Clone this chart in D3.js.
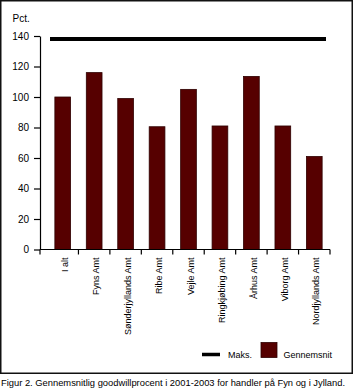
<!DOCTYPE html>
<html>
<head>
<meta charset="utf-8">
<script src="https://cdnjs.cloudflare.com/ajax/libs/d3/7.8.5/d3.min.js"></script>
<style>
  body { margin: 0; background: #fff; }
  text { font-family: "Liberation Sans", Arial, sans-serif; fill: #000; }
</style>
</head>
<body>
<script>
let categories = ["I alt", "Fyns Amt", "Sønderjyllands Amt", "Ribe Amt", "Vejle Amt",
                  "Ringkjøbing Amt", "Århus Amt", "Viborg Amt", "Nordjyllands Amt"]
let gennemsnit = [100, 116, 99, 80.5, 105, 81, 113.5, 81, 61]
let maks = 138
let yTicks = [0, 20, 40, 60, 80, 100, 120, 140]
let legendLabels = ["Maks.", "Gennemsnit"]
let caption = "Figur 2. Gennemsnitlig goodwillprocent i 2001-2003 for handler på Fyn og i Jylland."

let width = 354
let height = 391
let axisleft = 40   // y axis sits here
let bandstart = 47  // first category starts a bit right of the axis
let bandend = 330
let ytop = 36
let ybottom = 249.5
let barcolor = "#560000"

let svg = d3.select("body").append("svg")
    .attr("width", width)
    .attr("height", height)

// frame round the chart
svg.append("rect")
    .attr("x", 0.75).attr("y", 0.75)
    .attr("width", 351.5).attr("height", 372.5)
    .attr("fill", "none")
    .attr("stroke", "#111")
    .attr("stroke-width", 1.5)

let x = d3.scaleBand()
    .domain(categories)
    .range([bandstart, bandend])
    .paddingInner(0.5)
    .paddingOuter(0.25)

let y = d3.scaleLinear()
    .domain([0, 140])
    .range([ybottom, ytop])

// bars
svg.selectAll("rect.bar")
    .data(categories)
    .enter()
    .append("rect")
    .attr("class", "bar")
    .attr("x", function(d){ return x(d) })
    .attr("y", function(d, i){ return y(gennemsnit[i]) })
    .attr("width", x.bandwidth())
    .attr("height", function(d, i){ return ybottom - y(gennemsnit[i]) })
    .attr("fill", barcolor)
    .attr("stroke", "#2e0000")
    .attr("stroke-width", 0.8)

// maks line across all categories
svg.append("line")
    .attr("x1", bandstart + 3)
    .attr("x2", bandend - 4)
    .attr("y1", y(maks))
    .attr("y2", y(maks))
    .attr("stroke", "#000")
    .attr("stroke-width", 4)

// y axis
let yAxis = d3.axisLeft(y)
    .tickValues(yTicks)
    .tickSize(6)
    .tickSizeOuter(0)
    .tickPadding(5)
let ya = svg.append("g")
    .attr("transform", "translate(" + axisleft + ",0)")
    .call(yAxis)
ya.select(".domain").attr("stroke", "#000").attr("stroke-width", 1.2)
ya.selectAll(".tick line").attr("stroke", "#000").attr("stroke-width", 1.2)
ya.selectAll(".tick text")
    .style("font-family", "'Liberation Sans', Arial, sans-serif")
    .style("font-size", "10px")
    .attr("fill", "#000")

svg.append("text")
    .attr("x", 12.5)
    .attr("y", 22)
    .style("font-size", "10px")
    .text("Pct.")

// x axis line with ticks between categories
let step = x.step()
let xticks = [axisleft].concat(categories.map(function(d){ return x(d) - x.bandwidth() * 0.5 + step })) 
svg.append("line")
    .attr("x1", axisleft).attr("x2", bandend)
    .attr("y1", ybottom).attr("y2", ybottom)
    .attr("stroke", "#000").attr("stroke-width", 1.2)
svg.selectAll("line.xtick")
    .data(xticks)
    .enter()
    .append("line")
    .attr("class", "xtick")
    .attr("x1", function(d){ return d }).attr("x2", function(d){ return d })
    .attr("y1", ybottom).attr("y2", ybottom + 5)
    .attr("stroke", "#000").attr("stroke-width", 1.2)

// rotated category labels
svg.selectAll("text.xlabel")
    .data(categories)
    .enter()
    .append("text")
    .attr("class", "xlabel")
    .attr("transform", function(d){
        return "translate(" + (x(d) + x.bandwidth() / 2 + 2) + "," + (ybottom + 8) + ") rotate(-90)"
    })
    .attr("text-anchor", "end")
    .attr("dy", "0.35em")
    .style("font-size", "9px")
    .text(function(d){ return d })

// legend
let lg = svg.append("g")
lg.append("line")
    .attr("x1", 202).attr("x2", 220)
    .attr("y1", 354.5).attr("y2", 354.5)
    .attr("stroke", "#000").attr("stroke-width", 3.5)
lg.append("text")
    .attr("x", 228).attr("y", 358)
    .style("font-size", "9px")
    .text(legendLabels[0])
lg.append("rect")
    .attr("x", 261).attr("y", 342.5)
    .attr("width", 16).attr("height", 15)
    .attr("fill", barcolor)
    .attr("stroke", "#2e0000").attr("stroke-width", 0.8)
lg.append("text")
    .attr("x", 283.5).attr("y", 358)
    .style("font-size", "9px")
    .text(legendLabels[1])

// caption under the frame
svg.append("text")
    .attr("x", 1).attr("y", 386)
    .style("font-size", "9.5px")
    .attr("textLength", 344)
    .attr("lengthAdjust", "spacingAndGlyphs")
    .text(caption)
</script>
</body>
</html>
